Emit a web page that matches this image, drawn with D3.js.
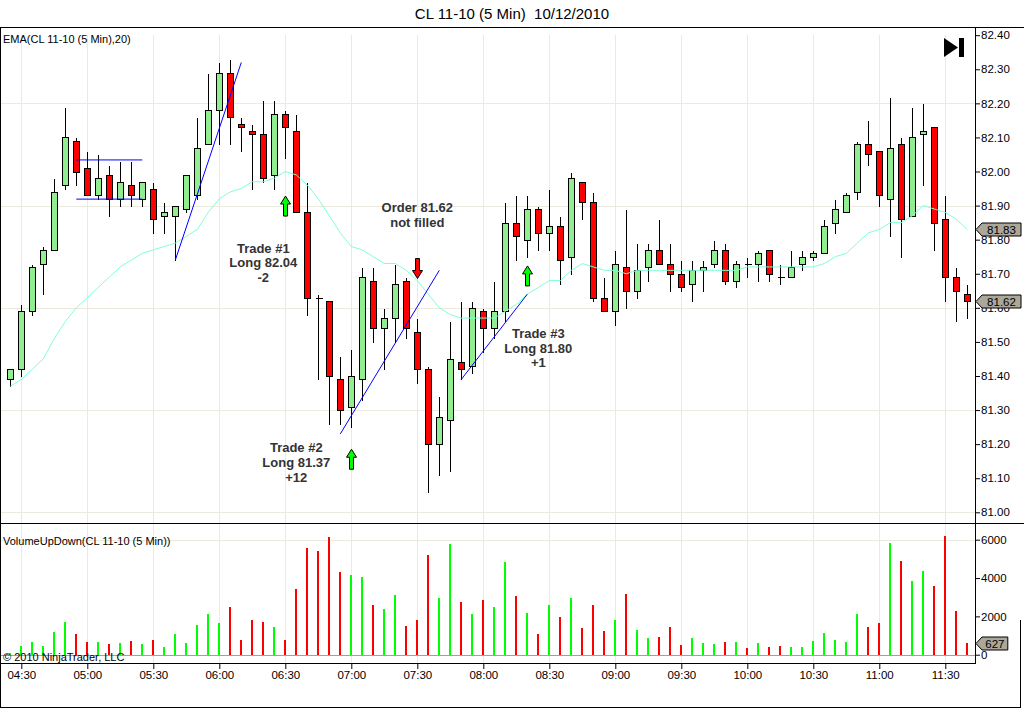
<!DOCTYPE html>
<html>
<head>
<meta charset="utf-8">
<script src="https://cdnjs.cloudflare.com/ajax/libs/d3/7.8.5/d3.min.js"></script>
<style>
  body { margin: 0; background: #fff; }
  svg { display: block; font-family: "Liberation Sans", Arial, sans-serif; }
  .note { font-weight: bold; font-size: 13px; fill: #333; }
</style>
</head>
<body>
<svg width="1024" height="709"></svg>
<script>
// CL 11-10, 5 min bars, first bar is 04:25 (one bar before 04:30)
var firstBar = -1;

var open = [81.39,81.42,81.59,81.73,81.77,81.96,82.09,82.01,81.93,81.99,
            81.92,81.96,81.92,81.95,81.87,81.87,81.89,81.93,82.08,82.18,
            82.29,82.14,82.12,82.11,81.99,82.17,82.12,81.88,81.63,81.62,
            81.39,81.31,81.39,81.68,81.54,81.57,81.68,81.53,81.42,81.20,
            81.27,81.44,81.43,81.59,81.54,81.59,81.85,81.80,81.89,81.82,
            81.84,81.75,81.97,81.91,81.63,81.59,81.72,81.65,81.72,81.77,
            81.73,81.70,81.67,81.71,81.73,81.77,81.68,81.73,81.73,81.77,
            81.69,81.69,81.73,81.75,81.76,81.85,81.88,81.94,82.08,82.06,
            81.92,82.08,81.87,82.11,82.13,81.86,81.69,81.64];
var high = [81.42,81.61,81.73,81.78,81.98,82.19,82.10,82.06,82.05,82.02,
            82.03,82.03,81.97,81.97,81.91,81.90,81.99,82.16,82.29,82.32,
            82.33,82.16,82.14,82.21,82.21,82.18,82.17,81.97,81.64,81.62,
            81.46,81.48,81.72,81.72,81.60,81.73,81.69,81.57,81.43,81.34,
            81.56,81.62,81.62,81.60,81.68,81.91,81.93,81.93,81.90,81.95,
            81.87,82.00,81.97,81.94,81.69,81.77,81.89,81.79,81.79,81.86,
            81.79,81.74,81.74,81.74,81.80,81.79,81.74,81.75,81.77,81.77,
            81.73,81.77,81.77,81.77,81.86,81.92,81.94,82.09,82.15,82.06,
            82.22,82.10,82.19,82.20,82.13,81.93,81.72,81.67];
var low =  [81.37,81.40,81.58,81.64,81.77,81.95,81.96,81.93,81.92,81.87,
            81.90,81.90,81.90,81.82,81.82,81.74,81.88,81.92,82.08,82.08,
            82.08,82.06,81.95,81.97,81.95,82.04,81.88,81.58,81.39,81.26,
            81.26,81.25,81.33,81.50,81.42,81.50,81.51,81.38,81.06,81.11,
            81.12,81.39,81.41,81.47,81.51,81.56,81.74,81.75,81.77,81.77,
            81.67,81.70,81.86,81.62,81.59,81.55,81.60,81.63,81.68,81.73,
            81.65,81.65,81.62,81.65,81.72,81.67,81.66,81.69,81.68,81.68,
            81.67,81.69,81.71,81.74,81.76,81.82,81.88,81.92,82.02,81.90,
            81.81,81.75,81.87,81.96,81.77,81.62,81.56,81.57];
var close = [81.42,81.59,81.72,81.77,81.94,82.10,82.00,81.93,81.98,81.92,
            81.97,81.93,81.97,81.86,81.88,81.90,81.99,82.07,82.18,82.29,
            82.16,82.13,82.11,81.98,82.17,82.13,81.88,81.63,81.63,81.40,
            81.30,81.40,81.69,81.54,81.57,81.67,81.54,81.42,81.20,81.28,
            81.45,81.42,81.60,81.54,81.59,81.85,81.81,81.89,81.82,81.84,
            81.74,81.98,81.91,81.63,81.59,81.73,81.65,81.71,81.77,81.73,
            81.70,81.66,81.71,81.72,81.77,81.68,81.73,81.73,81.76,81.70,
            81.69,81.72,81.75,81.76,81.84,81.89,81.93,82.08,82.05,81.93,
            82.07,81.86,82.10,82.12,81.85,81.69,81.65,81.62];
// EMA(20) as drawn
var ema =  [81.37,81.39,81.42,81.45,81.51,81.56,81.60,81.63,81.66,81.69,
            81.72,81.74,81.76,81.77,81.78,81.79,81.81,81.83,81.88,81.92,
            81.94,81.95,81.97,81.97,81.98,82.00,81.99,81.96,81.92,81.87,
            81.82,81.78,81.77,81.75,81.73,81.73,81.71,81.68,81.64,81.60,
            81.58,81.57,81.57,81.57,81.57,81.59,81.61,81.64,81.66,81.68,
            81.68,81.71,81.73,81.72,81.71,81.71,81.70,81.71,81.71,81.71,
            81.71,81.71,81.71,81.71,81.71,81.71,81.71,81.72,81.72,81.72,
            81.72,81.72,81.72,81.72,81.73,81.75,81.76,81.79,81.82,81.83,
            81.85,81.85,81.87,81.90,81.89,81.88,81.86,81.83];
// volume, positive = up bar (green), negative = down bar (red)
var volume = [100,470,640,470,1160,1720,-1060,-640,680,-540,
            590,-690,540,-780,420,1060,590,1530,2100,1680,
            -2510,-780,-1790,-1730,1470,-780,-3450,-5560,-5420,-6150,
            -4320,4160,4060,-2600,2390,3120,-1510,-1820,-5200,2960,
            5770,-2760,2130,-2860,2500,4840,-3070,2180,-1090,2600,
            -1980,2960,-1400,-2600,-1250,1820,-3170,1300,880,-940,
            -1460,-520,880,620,570,-680,680,-360,620,-420,
            -470,420,420,730,1140,780,680,2130,-1460,-1660,
            5820,-4890,3850,4370,-3590,-6190,-2290,-627];

var timeLabels = ["04:30","05:00","05:30","06:00","06:30","07:00","07:30","08:00",
                  "08:30","09:00","09:30","10:00","10:30","11:00","11:30"];
var priceTicks = [82.40,82.30,82.20,82.10,82.00,81.90,81.80,81.70,81.60,81.50,81.40,81.30,81.20,81.10,81.00];
var priceGrid = [82.20,81.90,81.60,81.30,81.00];
var volTicks = [0,2000,4000,6000];

// drawing objects: [bar1, price1, bar2, price2]
var trendLines = [[5,82.034,11,82.034],[5,81.919,11,81.919],
                  [14,81.74,20,82.32],[29,81.23,38,81.71],[40,81.39,46,81.64]];
// arrows: [bar, tip price, direction]
var signals = [[24,81.928,"up"],[30,81.185,"up"],[46,81.723,"up"],[36,81.686,"down"]];
// text notes: bar, price of first line, lines
var noteBars = [22, 36, 25, 47];
var notePrices = [81.775, 81.894, 81.189, 81.525];
var noteLines = [["Trade #1","Long 82.04","-2"],["Order 81.62","not filled"],
                 ["Trade #2","Long 81.37","+12"],["Trade #3","Long 81.80","+1"]];

var svg = d3.select("svg");
var axisX = 975, topY = 27, sepY = 523, bottomY = 663;

var x = d3.scaleLinear().domain([0, 84]).range([21.3, 945.3]);
var y = d3.scaleLinear().domain([81.00, 82.40]).range([512.3, 35.2]);
var yv = d3.scaleLinear().domain([0, 6000]).range([654.7, 539.7]);

var bars = open.map(function(o, k) {
  return {i: k + firstBar, o: o, h: high[k], l: low[k], c: close[k], e: ema[k], v: volume[k]};
});
function px(i) { return Math.round(x(i)) + 0.5; }
function py(p) { return Math.round(y(p)) + 0.5; }

svg.append("rect").attr("width", 1024).attr("height", 709).attr("fill", "#fff");

// grid
var grid = svg.append("g").attr("stroke", "#ece9df").attr("shape-rendering", "crispEdges");
grid.selectAll(".vg").data(d3.range(0, 85, 6)).enter().append("line")
  .attr("x1", px).attr("x2", px).attr("y1", 35).attr("y2", bottomY);
grid.selectAll(".hg").data(priceGrid).enter().append("line")
  .attr("x1", 0).attr("x2", axisX).attr("y1", py).attr("y2", py);
grid.append("line").attr("x1", 0).attr("x2", axisX)
  .attr("y1", Math.round(yv(6000)) + 0.5).attr("y2", Math.round(yv(6000)) + 0.5);

// title
svg.append("text").attr("x", 512).attr("y", 19).attr("text-anchor", "middle")
  .style("font-size", "15px").style("white-space", "pre")
  .text("CL 11-10 (5 Min)  10/12/2010");

// candles
var cg = svg.append("g").attr("shape-rendering", "crispEdges");
var candle = cg.selectAll(".c").data(bars).enter().append("g");
candle.append("line")
  .attr("x1", function(d) { return px(d.i); }).attr("x2", function(d) { return px(d.i); })
  .attr("y1", function(d) { return py(d.h); }).attr("y2", function(d) { return py(d.l); })
  .attr("stroke", "#000");
candle.filter(function(d) { return d.c !== d.o; }).append("rect")
  .attr("x", function(d) { return px(d.i) - 3; })
  .attr("y", function(d) { return py(Math.max(d.o, d.c)); })
  .attr("width", 6)
  .attr("height", function(d) { return py(Math.min(d.o, d.c)) - py(Math.max(d.o, d.c)); })
  .attr("fill", function(d) { return d.c > d.o ? "#90ee90" : "#ff0000"; })
  .attr("stroke", "#000");
candle.filter(function(d) { return d.c === d.o; }).append("line")
  .attr("x1", function(d) { return px(d.i) - 3; }).attr("x2", function(d) { return px(d.i) + 4; })
  .attr("y1", function(d) { return py(d.c); }).attr("y2", function(d) { return py(d.c); })
  .attr("stroke", "#000");

// EMA
svg.append("path").datum(bars)
  .attr("fill", "none").attr("stroke", "#7fffd4").attr("stroke-width", 1)
  .attr("d", d3.line().x(function(d) { return x(d.i); }).y(function(d) { return y(d.e); }));

// trend lines
svg.selectAll(".tl").data(trendLines).enter().append("line")
  .attr("x1", function(d) { return x(d[0]); }).attr("y1", function(d) { return y(d[1]); })
  .attr("x2", function(d) { return x(d[2]); }).attr("y2", function(d) { return y(d[3]); })
  .attr("stroke", "#0000ff").attr("stroke-width", 1);

// arrows
svg.selectAll(".ar").data(signals).enter().append("path")
  .attr("transform", function(d) {
    return "translate(" + px(d[0]) + "," + y(d[1]) + ")" + (d[2] === "down" ? " scale(1,-1)" : "");
  })
  .attr("d", "M0,0L5,8L2,8L2,20L-2,20L-2,8L-5,8Z")
  .attr("fill", function(d) { return d[2] === "up" ? "#00ff00" : "#ff0000"; })
  .attr("stroke", "#000").attr("stroke-width", 1);

// notes
noteLines.forEach(function(lines, n) {
  var t = svg.append("text").attr("class", "note").attr("text-anchor", "middle")
    .attr("x", x(noteBars[n])).attr("y", y(notePrices[n]) + 4.5);
  lines.forEach(function(s, j) {
    t.append("tspan").attr("x", x(noteBars[n])).attr("dy", j ? 14.7 : 0).text(s);
  });
});

// volume bars
svg.append("line").attr("x1", 0).attr("x2", axisX)
  .attr("y1", Math.round(yv(0)) + 0.5).attr("y2", Math.round(yv(0)) + 0.5)
  .attr("stroke", "#a0a0a0");
svg.append("g").attr("shape-rendering", "crispEdges").selectAll("rect").data(bars).enter().append("rect")
  .attr("x", function(d) { return Math.round(x(d.i)) - 1; })
  .attr("width", 2)
  .attr("y", function(d) { return yv(Math.abs(d.v)); })
  .attr("height", function(d) { return yv(0) - yv(Math.abs(d.v)); })
  .attr("fill", function(d) { return d.v >= 0 ? "#00ff00" : "#ff0000"; });

// panel labels
svg.append("text").attr("x", 3).attr("y", 43).style("font-size", "11px").text("EMA(CL 11-10 (5 Min),20)");
svg.append("text").attr("x", 3).attr("y", 545).style("font-size", "11px").text("VolumeUpDown(CL 11-10 (5 Min))");
svg.append("text").attr("x", 3).attr("y", 661).style("font-size", "11px").text("\u00a9 2010 NinjaTrader, LLC");

// frame lines
var frame = svg.append("g").attr("stroke", "#000").attr("shape-rendering", "crispEdges");
frame.append("line").attr("x1", 0).attr("x2", 1024).attr("y1", topY + 0.5).attr("y2", topY + 0.5);
frame.append("line").attr("x1", 0).attr("x2", 1024).attr("y1", sepY + 0.5).attr("y2", sepY + 0.5);
frame.append("line").attr("x1", 0).attr("x2", axisX).attr("y1", bottomY + 0.5).attr("y2", bottomY + 0.5);
frame.append("line").attr("x1", 0.5).attr("x2", 0.5).attr("y1", topY).attr("y2", 708);
frame.append("line").attr("x1", axisX + 0.5).attr("x2", axisX + 0.5).attr("y1", topY).attr("y2", bottomY + 1);
frame.append("line").attr("x1", 0).attr("x2", 1021).attr("y1", 707.5).attr("y2", 707.5);
frame.append("line").attr("x1", 1020.5).attr("x2", 1020.5).attr("y1", 620).attr("y2", 708);

// axes
function styleAxis(g) {
  g.select(".domain").remove();
  g.selectAll("text").style("font-size", "11.5px").attr("fill", "#000")
    .style("font-family", "'Liberation Sans', Arial, sans-serif");
  g.selectAll("line").attr("stroke", "#000");
}
svg.append("g").attr("transform", "translate(" + axisX + ",0)")
  .call(d3.axisRight(y).tickValues(priceTicks).tickSize(5).tickPadding(1).tickFormat(d3.format(".2f")))
  .call(styleAxis);
svg.append("g").attr("transform", "translate(" + axisX + ",0)")
  .call(d3.axisRight(yv).tickValues(volTicks).tickSize(5).tickPadding(1).tickFormat(d3.format("d")))
  .call(styleAxis);
svg.append("g").attr("transform", "translate(0," + bottomY + ")")
  .call(d3.axisBottom(x).tickValues(d3.range(0, 85, 6)).tickSize(6).tickPadding(2)
    .tickFormat(function(d, j) { return timeLabels[j]; }))
  .call(styleAxis);

// last value markers
function marker(val, yy, label) {
  var g = svg.append("g").attr("transform", "translate(" + (axisX + 1) + "," + yy + ")");
  var w = label.length * 6.6 + 6;
  g.append("path").attr("d", "M0,0L6,-6.5L" + (6 + w) + ",-6.5L" + (6 + w) + ",6.5L6,6.5Z")
    .attr("fill", "#aca899").attr("stroke", "#000").attr("stroke-width", 1);
  g.append("text").attr("x", 6 + w / 2).attr("y", 4.2).attr("text-anchor", "middle")
    .style("font-size", "11.5px").text(label);
}
var last = bars[bars.length - 1];
marker(last.e, Math.round(y(last.e)) + 0.5, d3.format(".2f")(last.e));
marker(last.c, Math.round(y(last.c)) + 0.5, d3.format(".2f")(last.c));
marker(last.v, Math.round(yv(Math.abs(last.v))) + 0.5, String(Math.abs(last.v)));

// go-to-end button
svg.append("path").attr("d", "M944,38L944,57L958,47.5Z").attr("fill", "#000");
svg.append("rect").attr("x", 959).attr("y", 38).attr("width", 5).attr("height", 19).attr("fill", "#000");
</script>
</body>
</html>
